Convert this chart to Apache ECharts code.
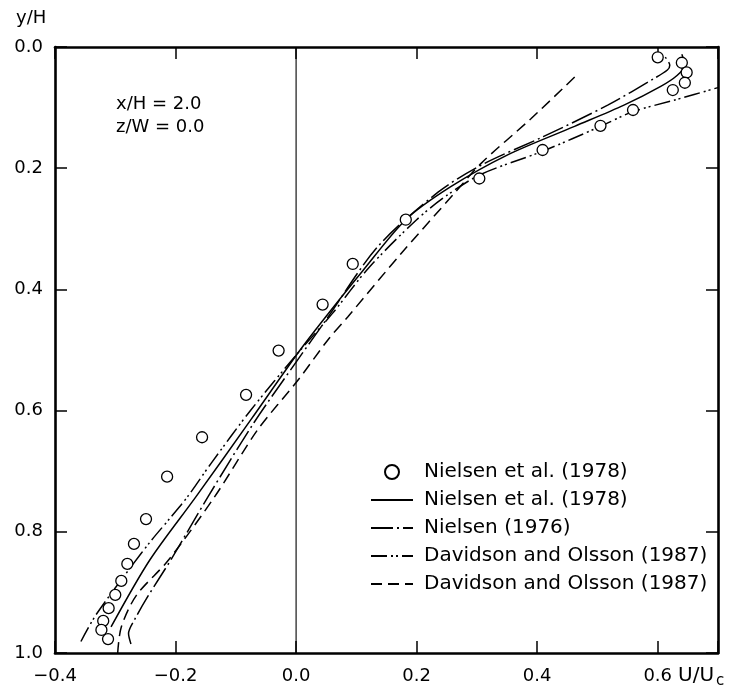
<!DOCTYPE html>
<html><head><meta charset="utf-8">
<script src="https://cdn.jsdelivr.net/npm/echarts@6/dist/echarts.min.js"></script>
<style>html,body{margin:0;padding:0;background:#fff}#c{width:730px;height:692px}</style>
</head><body><div id="c"></div>
<script>
// measured data: [U/Uc, y/H]
const measured = [
  [0.600,0.017],[0.640,0.026],[0.648,0.042],[0.645,0.059],[0.625,0.071],
  [0.559,0.104],[0.505,0.130],[0.409,0.170],[0.304,0.217],[0.182,0.285],
  [0.094,0.358],[0.044,0.425],[-0.029,0.501],[-0.083,0.574],[-0.156,0.644],
  [-0.214,0.709],[-0.249,0.779],[-0.269,0.820],[-0.280,0.853],[-0.290,0.881],
  [-0.300,0.904],[-0.311,0.926],[-0.320,0.947],[-0.323,0.962],[-0.312,0.977]
];
const nielsen1978 = [
  [-0.307,0.957],[-0.243,0.847],[-0.166,0.742],[-0.075,0.615],[0.003,0.505],
  [0.047,0.448],[0.110,0.370],[0.182,0.285],[0.256,0.231],[0.351,0.178],
  [0.462,0.131],[0.544,0.096],[0.605,0.065],[0.632,0.047],[0.645,0.030],[0.640,0.012]
];
const nielsen1976 = [
  [-0.274,0.985],[-0.278,0.968],[-0.268,0.945],[-0.245,0.905],[-0.207,0.845],
  [-0.146,0.742],[-0.070,0.620],[0.000,0.520],[0.050,0.450],[0.135,0.330],
  [0.235,0.240],[0.307,0.195],[0.410,0.148],[0.517,0.096],[0.594,0.052],
  [0.616,0.038],[0.620,0.030],[0.611,0.015]
];
const davidsonDashDotDot = [
  [-0.357,0.981],[-0.332,0.937],[-0.274,0.858],[-0.240,0.814],[-0.207,0.775],
  [-0.180,0.742],[-0.141,0.687],[-0.075,0.599],[0.003,0.505],[0.060,0.440],
  [0.120,0.365],[0.200,0.285],[0.250,0.245],[0.307,0.210],[0.409,0.172],
  [0.505,0.131],[0.558,0.107],[0.630,0.087],[0.700,0.067]
];
const davidsonDashed = [
  [-0.296,1.000],[-0.290,0.957],[-0.265,0.905],[-0.212,0.847],[-0.135,0.742],
  [-0.064,0.632],[0.003,0.550],[0.053,0.483],[0.086,0.445],[0.175,0.340],
  [0.263,0.241],[0.307,0.192],[0.390,0.118],[0.467,0.045]
];
const zeroLine = [[0,0],[0,1]];
const xTickValues = [-0.4,-0.2,0.0,0.2,0.4,0.6];
const xTickLabels = ['\u22120.4','\u22120.2','0.0','0.2','0.4','0.6'];
const yTickValues = [0.0,0.2,0.4,0.6,0.8,1.0];
const yTickLabels = ['0.0','0.2','0.4','0.6','0.8','1.0'];
const seriesNames = ['Nielsen et al. (1978)','Nielsen et al. (1978)\u200b','Nielsen (1976)','Davidson and Olsson (1987)','Davidson and Olsson (1987)\u200b'];

const FONT = 'DejaVu Sans';
function lookup(vals, labels){
  return function(v){
    for (let i=0;i<vals.length;i++) if (Math.abs(vals[i]-v)<1e-6) return labels[i];
    return '';
  };
}
const axisLine = {onZero:false, lineStyle:{color:'#000', width:2.6}};
const axisTick = {inside:true, length:12, lineStyle:{color:'#000', width:1.5}};
function xAx(pos, show){
  return {type:'value', min:-0.4, max:0.7, interval:0.2, position:pos,
    axisLine:axisLine, axisTick:axisTick, splitLine:{show:false},
    axisLabel:{show:show, formatter:lookup(xTickValues,xTickLabels), color:'#000', fontSize:18, fontFamily:FONT, margin:14}};
}
function yAx(pos, show){
  return {type:'value', min:0, max:1, interval:0.2, inverse:true, position:pos,
    axisLine:axisLine, axisTick:axisTick, splitLine:{show:false},
    axisLabel:{show:show, formatter:lookup(yTickValues,yTickLabels), color:'#000', fontSize:18, fontFamily:FONT, margin:12}};
}
function lineSeries(name, data, type){
  return {name:name, type:'line', data:data, symbol:'none', smooth:0.3, z:3,
    lineStyle:{color:'#000', width:1.5, type:type}, itemStyle:{color:'#000'}};
}
const hiddenSym = {opacity:0};
const chart = echarts.init(document.getElementById('c'), null, {renderer:'canvas'});
chart.setOption({
  animation:false,
  backgroundColor:'#fff',
  grid:{left:55, right:12, top:47, bottom:39},
  xAxis:[xAx('bottom',true), xAx('top',false)],
  yAxis:[yAx('left',true), yAx('right',false)],
  legend:{
    orient:'vertical', left:370, top:462, padding:0, itemGap:8,
    itemWidth:42, itemHeight:14,
    data:[
      {name:seriesNames[0]},
      {name:seriesNames[1], itemStyle:hiddenSym},
      {name:seriesNames[2], itemStyle:hiddenSym},
      {name:seriesNames[3], itemStyle:hiddenSym},
      {name:seriesNames[4], itemStyle:hiddenSym}
    ],
    formatter:function(n){return n.replace('\u200b','');},
    textStyle:{color:'#000', fontSize:20, fontFamily:FONT, padding:[0,0,0,6]},
    selectedMode:false
  },
  graphic:[
    {type:'text', left:16, top:9, style:{text:'y/H', fontSize:18, fontFamily:FONT, fill:'#000'}},
    {type:'text', left:116, top:95, style:{text:'x/H = 2.0', fontSize:18, fontFamily:FONT, fill:'#000'}},
    {type:'text', left:116, top:118, style:{text:'z/W = 0.0', fontSize:18, fontFamily:FONT, fill:'#000'}},
    {type:'text', left:678, top:666, style:{text:'U/U', fontSize:20, fontFamily:FONT, fill:'#000'}},
    {type:'text', left:716, top:674, style:{text:'c', fontSize:15, fontFamily:FONT, fill:'#000'}}
  ],
  series:[
    {name:'zero', type:'line', data:zeroLine, symbol:'none', silent:true, z:2,
      lineStyle:{color:'#000', width:1.1}},
    lineSeries(seriesNames[1], nielsen1978, 'solid'),
    lineSeries(seriesNames[2], nielsen1976, [22,4,2,4]),
    lineSeries(seriesNames[3], davidsonDashDotDot, [16,4,2,3,2,4]),
    lineSeries(seriesNames[4], davidsonDashed, [11,6]),
    {name:seriesNames[0], type:'scatter', data:measured, symbol:'circle', symbolSize:11, z:5,
      itemStyle:{color:'#fff', borderColor:'#000', borderWidth:1.3, opacity:1}}
  ]
});
</script></body></html>
